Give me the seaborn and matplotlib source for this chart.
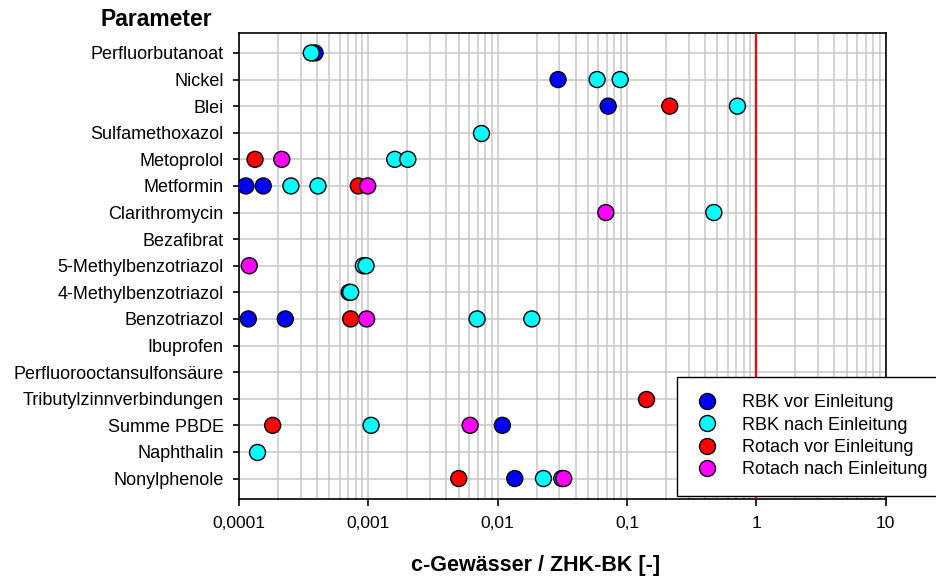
import matplotlib
matplotlib.use("Agg")
import matplotlib.pyplot as plt
from matplotlib.lines import Line2D
import seaborn as sns
import pandas as pd

categories = [
    "Perfluorbutanoat", "Nickel", "Blei", "Sulfamethoxazol", "Metoprolol",
    "Metformin", "Clarithromycin", "Bezafibrat", "5-Methylbenzotriazol",
    "4-Methylbenzotriazol", "Benzotriazol", "Ibuprofen",
    "Perfluorooctansulfonsäure", "Tributylzinnverbindungen", "Summe PBDE",
    "Naphthalin", "Nonylphenole",
]
series_names = ["RBK vor Einleitung", "RBK nach Einleitung",
                "Rotach vor Einleitung", "Rotach nach Einleitung"]
series_colors = ["#0000FF", "#00FFFF", "#FF0000", "#FF00FF"]

rbk_vor = [
    ("Perfluorbutanoat", 0.000387), ("Nickel", 0.0293), ("Blei", 0.0715),
    ("Metformin", 0.000113), ("Metformin", 0.000154),
    ("Benzotriazol", 0.000118), ("Benzotriazol", 0.000228),
    ("Summe PBDE", 0.01087), ("Nonylphenole", 0.01356),
]
rbk_nach = [
    ("Perfluorbutanoat", 0.000362), ("Nickel", 0.0587), ("Nickel", 0.0885),
    ("Blei", 0.714), ("Sulfamethoxazol", 0.00745),
    ("Metoprolol", 0.0016), ("Metoprolol", 0.00202),
    ("Metformin", 0.000252), ("Metformin", 0.000408),
    ("Clarithromycin", 0.469),
    ("5-Methylbenzotriazol", 0.000915), ("5-Methylbenzotriazol", 0.00096),
    ("4-Methylbenzotriazol", 0.00071), ("4-Methylbenzotriazol", 0.00073),
    ("Benzotriazol", 0.00693), ("Benzotriazol", 0.01836),
    ("Summe PBDE", 0.00105), ("Naphthalin", 0.000139),
    ("Nonylphenole", 0.0226), ("Nonylphenole", 0.0313),
]
rotach_vor = [
    ("Blei", 0.214), ("Metoprolol", 0.000133), ("Metformin", 0.000837),
    ("Benzotriazol", 0.00073), ("Tributylzinnverbindungen", 0.1406),
    ("Summe PBDE", 0.000182), ("Nonylphenole", 0.0050),
]
rotach_nach = [
    ("Metoprolol", 0.000214), ("Metformin", 0.000989),
    ("Clarithromycin", 0.0686), ("5-Methylbenzotriazol", 0.00012),
    ("Benzotriazol", 0.00097), ("Summe PBDE", 0.00612),
    ("Nonylphenole", 0.0324),
]
xtick_values = [0.0001, 0.001, 0.01, 0.1, 1, 10]
xtick_labels = ["0,0001", "0,001", "0,01", "0,1", "1", "10"]
threshold = 1.0

rows = []
for name, pts in zip(series_names, [rbk_vor, rbk_nach, rotach_vor, rotach_nach]):
    for cat, val in pts:
        rows.append({"Parameter": cat, "Wert": val, "Serie": name})
df = pd.DataFrame(rows)

sns.set_style("white")
plt.rcParams["font.family"] = ["Liberation Sans", "DejaVu Sans"]
plt.rcParams["text.color"] = "black"
plt.rcParams["axes.labelcolor"] = "black"
plt.rcParams["xtick.color"] = "black"
plt.rcParams["ytick.color"] = "black"

fig = plt.figure(figsize=(9.36, 5.81), dpi=100)
ax = fig.add_axes([239 / 936, 1 - 499 / 581, (885.7 - 239) / 936, (499 - 33) / 581])
ax.set_xscale("log")

sns.stripplot(data=df, x="Wert", y="Parameter", hue="Serie", order=categories,
              hue_order=series_names, palette=dict(zip(series_names, series_colors)),
              jitter=False, dodge=False, s=11.5, linewidth=1, edgecolor="black",
              ax=ax, legend=False, zorder=4)

ax.set_xlim(1e-4, 10)
ax.set_ylim(len(categories) - 1 + 0.77, -0.75)
ax.set_xticks(xtick_values)
ax.set_xticklabels(xtick_labels)
ax.tick_params(axis="x", which="major", direction="out", length=5, width=1.2,
               labelsize=12.5, pad=7, bottom=True, colors="black")
ax.tick_params(axis="x", which="minor", length=0)
ax.tick_params(axis="y", direction="out", length=4.5, width=1.2, labelsize=13,
               pad=6.5, left=True, colors="black")
ax.set_yticks(range(len(categories)))
ax.set_yticklabels(categories)
ax.set_xlabel("")
ax.set_ylabel("")

ax.grid(True, which="major", axis="both", color="#c8c8c8", linewidth=1.1, zorder=0)
ax.grid(True, which="minor", axis="x", color="#c8c8c8", linewidth=1.1, zorder=0)
ax.set_axisbelow(True)
for sp in ax.spines.values():
    sp.set_visible(True)
    sp.set_color("black")
    sp.set_linewidth(1.2)

ax.axvline(threshold, color="#FF0000", linewidth=1.6, zorder=3)

handles = [Line2D([], [], marker="o", linestyle="", markersize=11.5,
                  markerfacecolor=c, markeredgecolor="black", markeredgewidth=1)
           for c in series_colors]
leg = fig.legend(handles, series_names, loc="upper left",
                 bbox_to_anchor=(677 / 936, 1 - 377 / 581), fontsize=13,
                 frameon=True, fancybox=False, edgecolor="black", framealpha=1,
                 borderpad=0.95, labelspacing=0.3, handlelength=1.4,
                 handletextpad=1.25, borderaxespad=0, labelcolor="black")
leg.get_frame().set_linewidth(1.0)

fig.text(100 / 936, 1 - 20 / 581, "Parameter", fontsize=16.5, fontweight="bold",
         ha="left", va="center", color="black")
fig.text(536 / 936, 1 - 565 / 581, "c-Gewässer / ZHK-BK [-]", fontsize=15.5,
         fontweight="bold", ha="center", va="center", color="black")

fig.savefig("out.png", dpi=100)
